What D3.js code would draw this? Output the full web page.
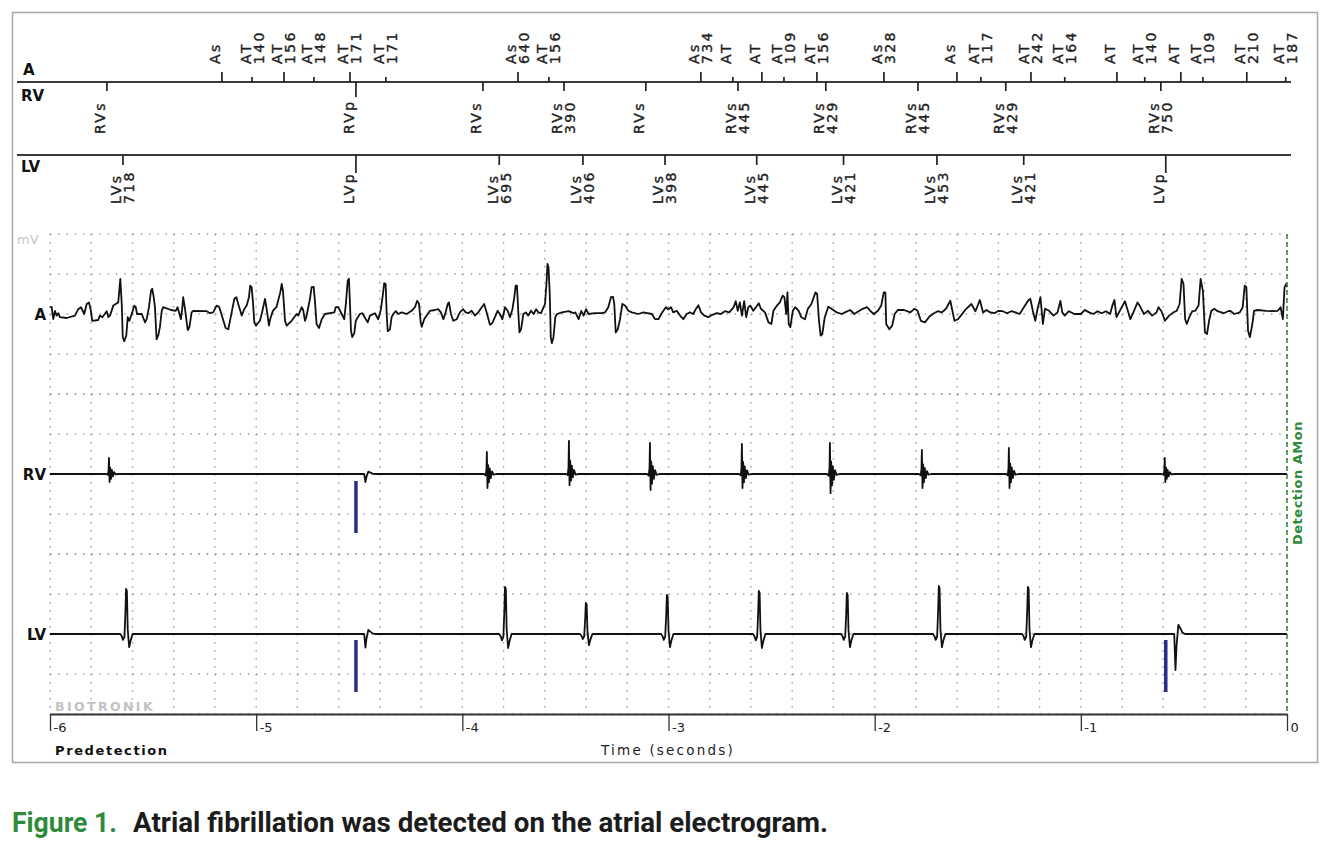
<!DOCTYPE html>
<html><head><meta charset="utf-8">
<script src="https://cdn.jsdelivr.net/npm/d3@7"></script>
<style>
html,body{margin:0;padding:0;background:#fff;}
svg{display:block;}
</style></head>
<body>
<svg id="chart" width="1332" height="848"></svg>
<script>
// ---------------- DATA ----------------
const timeTicks = [-6, -5, -4, -3, -2, -1, 0];
const timeTickLabels = ["-6", "-5", "-4", "-3", "-2", "-1", "0"];
const channels = ["A", "RV", "LV"];

// Atrial marker channel (time in s before detection)
const aMarkerTimes = [-5.166, -5.020, -4.865, -4.720, -4.545, -4.371, -3.730, -3.580, -2.843, -2.688, -2.547, -2.440, -2.280,
  -1.955, -1.601, -1.485, -1.242, -1.078, -0.825, -0.690, -0.515, -0.408, -0.195, -0.006];
const aMarkerLabels = ["As", "AT 140", "AT 156", "AT 148", "AT 171", "AT 171", "As 640", "AT 156", "As 734", "AT", "AT", "AT 109", "AT 156",
  "As 328", "As", "AT 117", "AT 242", "AT 164", "AT", "AT 140", "AT", "AT 109", "AT 210", "AT 187"];
const aMarkerMajor = [1, 0, 1, 0, 1, 0, 1, 0, 1, 0, 1, 0, 1, 1, 1, 0, 1, 0, 1, 0, 1, 0, 1, 0];

// RV marker channel
const rvMarkerTimes = [-5.724, -4.516, -3.900, -3.507, -3.110, -2.663, -2.237, -1.790, -1.364, -0.612];
const rvMarkerLabels = ["RVs", "RVp", "RVs", "RVs 390", "RVs", "RVs 445", "RVs 429", "RVs 445", "RVs 429", "RVs 750"];

// LV marker channel
const lvMarkerTimes = [-5.646, -4.516, -3.821, -3.415, -3.017, -2.572, -2.151, -1.698, -1.277, -0.588];
const lvMarkerLabels = ["LVs 718", "LVp", "LVs 695", "LVs 406", "LVs 398", "LVs 445", "LVs 421", "LVs 453", "LVs 421", "LVp"];

// Atrial electrogram (t s, mV)
const aTrace = [[-6.000,0.18],[-5.992,0.17],[-5.984,-0.13],[-5.976,0.08],[-5.968,-0.04],[-5.960,0.02],[-5.952,-0.08],[-5.919,-0.10],[-5.879,-0.04],[-5.863,0.12],[-5.850,0.17],[-5.834,0.00],[-5.822,0.25],[-5.811,0.29],[-5.803,0.12],[-5.795,-0.17],[-5.766,-0.15],[-5.758,-0.04],[-5.746,-0.08],[-5.725,0.07],[-5.717,-0.08],[-5.709,-0.04],[-5.693,0.21],[-5.669,0.29],[-5.659,0.88],[-5.652,0.25],[-5.647,-0.58],[-5.640,-0.68],[-5.630,-0.54],[-5.623,-0.08],[-5.615,-0.17],[-5.601,0.04],[-5.591,0.21],[-5.584,0.17],[-5.578,0.00],[-5.555,0.00],[-5.539,-0.21],[-5.531,-0.13],[-5.520,0.17],[-5.510,0.58],[-5.504,0.63],[-5.497,0.42],[-5.491,0.17],[-5.483,-0.63],[-5.475,-0.54],[-5.467,-0.33],[-5.458,0.08],[-5.451,0.17],[-5.413,0.10],[-5.390,0.08],[-5.381,0.17],[-5.374,0.04],[-5.365,-0.13],[-5.358,0.17],[-5.354,0.42],[-5.345,0.12],[-5.332,-0.40],[-5.324,-0.33],[-5.313,0.04],[-5.305,0.08],[-5.240,0.07],[-5.224,0.02],[-5.208,0.04],[-5.192,0.21],[-5.180,0.18],[-5.171,0.04],[-5.148,-0.35],[-5.135,-0.38],[-5.127,-0.17],[-5.106,0.38],[-5.096,0.42],[-5.087,0.25],[-5.070,-0.04],[-5.058,0.12],[-5.046,0.21],[-5.035,0.42],[-5.029,0.71],[-5.022,0.67],[-5.016,0.33],[-5.009,-0.21],[-5.001,-0.29],[-4.982,-0.17],[-4.973,0.00],[-4.957,0.38],[-4.949,0.12],[-4.938,-0.29],[-4.932,-0.13],[-4.919,0.08],[-4.901,0.18],[-4.883,0.54],[-4.876,0.75],[-4.870,0.58],[-4.860,-0.17],[-4.852,-0.29],[-4.828,-0.17],[-4.804,0.00],[-4.796,-0.04],[-4.779,0.17],[-4.772,0.10],[-4.763,-0.17],[-4.757,-0.08],[-4.739,0.38],[-4.731,0.67],[-4.721,0.68],[-4.715,0.33],[-4.707,-0.25],[-4.695,-0.35],[-4.682,-0.13],[-4.666,0.00],[-4.621,0.04],[-4.614,0.17],[-4.602,0.17],[-4.585,0.00],[-4.573,-0.13],[-4.565,0.25],[-4.556,0.83],[-4.550,0.88],[-4.545,0.25],[-4.540,-0.42],[-4.534,-0.58],[-4.524,-0.48],[-4.517,-0.17],[-4.497,0.00],[-4.485,0.02],[-4.459,-0.21],[-4.448,-0.04],[-4.424,0.02],
[-4.408,-0.13],[-4.395,0.12],[-4.385,0.50],[-4.379,0.77],[-4.372,0.75],[-4.367,0.00],[-4.362,-0.43],[-4.351,-0.38],[-4.343,-0.08],[-4.335,0.00],[-4.323,0.07],[-4.311,0.00],[-4.294,0.04],[-4.270,0.00],[-4.246,0.08],[-4.230,0.17],[-4.219,0.33],[-4.210,0.25],[-4.202,-0.21],[-4.197,-0.32],[-4.185,-0.13],[-4.173,-0.04],[-4.157,0.08],[-4.133,0.10],[-4.117,0.12],[-4.104,0.04],[-4.092,-0.13],[-4.081,0.04],[-4.071,0.25],[-4.065,0.29],[-4.055,0.00],[-4.044,-0.17],[-4.027,-0.13],[-4.012,0.04],[-3.996,0.12],[-3.984,0.04],[-3.971,0.02],[-3.955,0.08],[-3.939,-0.04],[-3.923,0.04],[-3.906,0.17],[-3.894,0.25],[-3.882,0.04],[-3.866,-0.27],[-3.855,-0.23],[-3.842,-0.08],[-3.829,0.08],[-3.818,0.00],[-3.806,-0.13],[-3.793,0.17],[-3.780,0.08],[-3.769,-0.08],[-3.757,0.12],[-3.748,0.42],[-3.741,0.71],[-3.735,0.71],[-3.728,0.00],[-3.723,-0.46],[-3.715,-0.38],[-3.704,0.00],[-3.692,0.04],[-3.680,-0.04],[-3.667,0.08],[-3.654,0.00],[-3.642,0.12],[-3.631,0.04],[-3.618,0.02],[-3.610,0.12],[-3.599,0.25],[-3.592,0.75],[-3.587,1.25],[-3.582,1.17],[-3.576,0.50],[-3.571,-0.58],[-3.566,-0.73],[-3.558,-0.58],[-3.549,-0.08],[-3.541,0.00],[-3.517,0.04],[-3.485,0.07],[-3.460,0.02],[-3.452,0.04],[-3.436,-0.13],[-3.423,0.08],[-3.412,-0.04],[-3.400,0.12],[-3.387,0.00],[-3.357,0.02],[-3.324,0.02],[-3.308,0.04],[-3.292,0.17],[-3.279,0.42],[-3.269,0.43],[-3.263,0.25],[-3.256,-0.46],[-3.246,-0.38],[-3.235,-0.13],[-3.224,0.25],[-3.211,0.21],[-3.195,0.08],[-3.178,0.04],[-3.146,0.00],[-3.122,0.04],[-3.081,0.00],[-3.065,-0.13],[-3.049,-0.13],[-3.033,0.02],[-3.013,0.17],[-3.001,0.12],[-2.988,0.17],[-2.977,0.04],[-2.960,0.08],[-2.944,-0.04],[-2.928,-0.13],[-2.912,0.00],[-2.896,0.04],[-2.880,0.00],[-2.868,0.12],[-2.855,0.22],[-2.842,0.04],[-2.826,-0.04],
[-2.807,-0.08],[-2.787,-0.02],[-2.766,0.02],[-2.746,0.00],[-2.726,0.07],[-2.705,0.04],[-2.684,0.17],[-2.674,0.32],[-2.664,0.08],[-2.654,0.29],[-2.644,-0.04],[-2.633,0.32],[-2.623,-0.08],[-2.613,0.17],[-2.603,0.21],[-2.589,0.08],[-2.576,0.17],[-2.562,0.27],[-2.552,0.13],[-2.532,0.04],[-2.515,-0.21],[-2.501,-0.25],[-2.491,0.08],[-2.474,0.21],[-2.460,0.29],[-2.446,0.46],[-2.438,0.42],[-2.429,0.00],[-2.423,0.54],[-2.417,-0.25],[-2.409,-0.33],[-2.397,0.08],[-2.385,0.17],[-2.368,0.07],[-2.356,-0.08],[-2.338,-0.13],[-2.324,0.13],[-2.307,0.25],[-2.287,0.54],[-2.279,0.50],[-2.270,-0.17],[-2.262,-0.54],[-2.254,-0.50],[-2.242,-0.08],[-2.225,0.18],[-2.209,0.13],[-2.184,0.04],[-2.160,0.00],[-2.144,0.04],[-2.119,0.10],[-2.099,0.00],[-2.078,0.07],[-2.058,0.13],[-2.037,0.17],[-2.021,0.08],[-2.005,0.00],[-1.984,0.08],[-1.968,0.21],[-1.956,0.54],[-1.948,0.54],[-1.944,-0.25],[-1.929,-0.38],[-1.915,-0.29],[-1.903,0.00],[-1.888,0.10],[-1.858,0.10],[-1.827,0.04],[-1.807,0.13],[-1.792,0.08],[-1.776,-0.17],[-1.756,-0.21],[-1.735,-0.07],[-1.719,0.00],[-1.694,0.07],[-1.674,0.04],[-1.654,0.13],[-1.633,0.33],[-1.623,0.08],[-1.613,-0.17],[-1.596,-0.13],[-1.582,-0.04],[-1.556,0.13],[-1.531,0.25],[-1.511,0.07],[-1.490,0.35],[-1.474,0.04],[-1.458,0.10],[-1.439,0.04],[-1.419,0.02],[-1.399,0.08],[-1.378,0.07],[-1.358,0.02],[-1.338,0.07],[-1.317,0.04],[-1.297,0.00],[-1.276,0.17],[-1.256,0.33],[-1.245,0.38],[-1.233,0.08],[-1.221,-0.17],[-1.209,0.15],[-1.196,0.42],[-1.184,-0.25],[-1.174,0.13],[-1.154,0.08],[-1.133,-0.04],[-1.113,0.04],[-1.099,0.33],[-1.090,0.04],[-1.078,-0.04],[-1.058,0.07],[-1.031,0.00],[-1.001,0.00],[-0.980,0.10],[-0.960,0.04],[-0.939,0.00],[-0.919,0.07],[-0.899,0.02],[-0.878,0.07],[-0.858,0.00],[-0.847,0.21],[-0.837,0.35],[-0.827,-0.08],[-0.806,0.13],[-0.786,0.32],[-0.772,0.08],[-0.760,-0.13],[-0.745,0.04],[-0.725,0.29],[-0.715,0.21],[-0.694,0.00],[-0.674,0.08],[-0.654,-0.04],[-0.633,0.04],[-0.623,0.17],[-0.609,0.07],[-0.592,-0.17],[-0.572,-0.04],[-0.551,0.04],[-0.535,0.08],[-0.521,0.25],[-0.511,0.88],[-0.502,0.75],[-0.494,-0.13],[-0.486,-0.25],[-0.474,-0.08],[-0.459,0.07],[-0.445,0.08],[-0.429,0.21],[-0.419,0.88],[-0.408,0.58],[-0.398,-0.46],[-0.388,-0.50],[-0.378,-0.17],[-0.367,0.08],[-0.352,0.13],[-0.337,0.07],[-0.307,0.02],[-0.286,0.07],[-0.276,0.08],[-0.256,0.00],[-0.229,0.04],[-0.215,0.17],[-0.205,0.71],[-0.197,0.67],[-0.189,-0.42],[-0.180,-0.58],[-0.168,-0.25],[-0.160,0.08],[-0.143,0.10],[-0.102,0.08],[-0.061,0.07],[-0.045,0.08],[-0.031,0.17],[-0.020,-0.13],[-0.012,0.67],[-0.004,0.75],[0.000,0.67]];

// Ventricular sensed complexes: time of spike (s), upward and downward amplitude (mV)
const rvBeatTimes = [-5.714, -3.881, -3.483, -3.090, -2.644, -2.217, -1.771, -1.349, -0.593];
const rvBeatUp    = [0.40, 0.55, 0.83, 0.78, 0.75, 0.78, 0.60, 0.65, 0.40];
const rvBeatDown  = [0.20, 0.35, 0.28, 0.40, 0.35, 0.48, 0.35, 0.35, 0.20];
const lvBeatTimes = [-5.631, -3.793, -3.401, -3.008, -2.562, -2.135, -1.689, -1.257];
const lvBeatUp    = [1.13, 1.18, 0.78, 0.98, 1.08, 1.03, 1.20, 1.18];
const lvBeatDown  = [0.33, 0.35, 0.28, 0.33, 0.35, 0.33, 0.33, 0.33];
// Paced (evoked) complexes
const rvPacedTimes = [-4.470];
const rvPacedUp    = [0.06];
const rvPacedDown  = [0.20];
const lvPacedTimes = [-4.470, -0.541];
const lvPacedUp    = [0.10, 0.23];
const lvPacedDown  = [0.34, 0.90];
// Pacing pulses
const rvPaceTimes = [-4.516];
const lvPaceTimes = [-4.516, -0.588];

// Complex shapes (ms from spike, normalised deflection)
const rvShapeMs  = [-14, -6, -2, 0, 3, 6, 10, 14, 19, 25, 32, 46];
const rvShapeVal = [0, -0.1, 0.2, 1.0, -1.0, 0.4, -0.6, 0.25, -0.3, 0.12, -0.05, 0];
const lvShapeMs  = [-28, -20, -15, -8, -3, 0, 4, 8, 15, 22, 32];
const lvShapeVal = [0, -0.2, -0.45, -0.2, 0.5, 1.0, 0.95, 0.1, -1.0, -0.5, 0];
const pacedShapeMs  = [-6, 0, 5, 14, 24, 34, 46];
const pacedShapeVal = [0, -1.0, -0.35, 1.0, 0.6, 0.15, 0];

// ---------------- CHART ----------------
const svg = d3.select("#chart");
const FONT = "'DejaVu Sans', Verdana, sans-serif";
const x = d3.scaleLinear().domain([-6, 0]).range([50, 1287]);
const chanBase = {A: 314, RV: 474, LV: 634};
const yS = {};
channels.forEach(c => { yS[c] = d3.scaleLinear().domain([-2, 2]).range([chanBase[c] + 80, chanBase[c] - 80]); });
const plotTop = yS.A(2), plotBottom = yS.LV(-2);

// frame
svg.append("rect").attr("x", 12.5).attr("y", 12.5).attr("width", 1305).attr("height", 750)
  .attr("fill", "none").attr("stroke", "#a8a8a8").attr("stroke-width", 1.5);

// grid
const grid = svg.append("g");
x.ticks(30).forEach(t => {
  grid.append("line").attr("x1", x(t)).attr("x2", x(t)).attr("y1", plotTop).attr("y2", plotBottom)
    .attr("stroke", "#9a9a9a").attr("stroke-width", 1.4).attr("stroke-dasharray", "1.4,6.6");
});
channels.forEach(c => {
  [2, 1, 0, -1, -2].forEach(v => {
    grid.append("line").attr("x1", x(-6)).attr("x2", x(0)).attr("y1", yS[c](v)).attr("y2", yS[c](v))
      .attr("stroke", "#9a9a9a").attr("stroke-width", 1.4).attr("stroke-dasharray", "1.4,6.85");
  });
});

svg.append("text").attr("x", 17).attr("y", plotTop + 10).text("mV")
  .attr("font-family", FONT).attr("font-size", 13).attr("fill", "#c4c4c4");

// marker channels
const mk = svg.append("g");
const lineAY = 82, lineLVY = 155;
[lineAY, lineLVY].forEach(yy => {
  mk.append("line").attr("x1", 17).attr("x2", 1291).attr("y1", yy).attr("y2", yy)
    .attr("stroke", "#3a3a3a").attr("stroke-width", 2);
});
aMarkerTimes.forEach((t, i) => {
  mk.append("line").attr("x1", x(t)).attr("x2", x(t)).attr("y1", lineAY).attr("y2", aMarkerMajor[i] ? lineAY - 10 : lineAY - 5)
    .attr("stroke", "#222").attr("stroke-width", 1.7);
});
rvMarkerTimes.forEach((t, i) => {
  const paced = rvMarkerLabels[i].indexOf("p") >= 0;
  mk.append("line").attr("x1", x(t)).attr("x2", x(t)).attr("y1", lineAY).attr("y2", paced ? lineAY + 15 : lineAY + 9)
    .attr("stroke", "#222").attr("stroke-width", 1.7);
});
lvMarkerTimes.forEach((t, i) => {
  const paced = lvMarkerLabels[i].indexOf("p") >= 0;
  mk.append("line").attr("x1", x(t)).attr("x2", x(t)).attr("y1", lineLVY).attr("y2", paced ? lineLVY + 18 : lineLVY + 10)
    .attr("stroke", "#222").attr("stroke-width", 1.7);
});
function drawMarkerLabels(times, labels, yStart) {
  times.forEach((t, i) => {
    labels[i].split(" ").forEach((p, j) => {
      const cx = x(t) + (j === 0 ? -6.5 : 6.5);
      mk.append("text").attr("transform", `translate(${cx},${yStart}) rotate(-90)`)
        .attr("dominant-baseline", "central").attr("text-anchor", "start")
        .attr("font-family", FONT).attr("font-size", 14).attr("letter-spacing", 2.4)
        .attr("fill", "#222").attr("stroke", "#222").attr("stroke-width", 0.35).text(p);
    });
  });
}
drawMarkerLabels(aMarkerTimes, aMarkerLabels, 64);
drawMarkerLabels(rvMarkerTimes, rvMarkerLabels, 134);
drawMarkerLabels(lvMarkerTimes, lvMarkerLabels, 204);

[["A", 23, 75], ["RV", 21, 101], ["LV", 21, 172]].forEach(d => {
  svg.append("text").attr("x", d[1]).attr("y", d[2]).text(d[0])
    .attr("font-family", FONT).attr("font-weight", "bold").attr("font-size", 15).attr("fill", "#111");
});

// traces
const line = c => d3.line().x(d => x(d[0])).y(d => yS[c](d[1]));
function buildTrace(bt, bu, bd, sMs, sVal, pt, pu, pd) {
  const pts = [[-6, 0]];
  const add = (t0, up, dn, ms, vals) => ms.forEach((m, k) => {
    const s = vals[k];
    pts.push([t0 + m / 1000, s >= 0 ? s * up : s * dn]);
  });
  bt.forEach((t, i) => add(t, bu[i], bd[i], sMs, sVal));
  pt.forEach((t, i) => add(t, pu[i], pd[i], pacedShapeMs, pacedShapeVal));
  pts.push([0, 0]);
  pts.sort((a, b) => a[0] - b[0]);
  return pts;
}
const rvTrace = buildTrace(rvBeatTimes, rvBeatUp, rvBeatDown, rvShapeMs, rvShapeVal, rvPacedTimes, rvPacedUp, rvPacedDown);
const lvTrace = buildTrace(lvBeatTimes, lvBeatUp, lvBeatDown, lvShapeMs, lvShapeVal, lvPacedTimes, lvPacedUp, lvPacedDown);

const tr = svg.append("g").attr("fill", "none").attr("stroke", "#111").attr("stroke-linejoin", "round");
tr.append("path").attr("d", line("A")(aTrace)).attr("stroke-width", 1.8);
tr.append("path").attr("d", line("RV")(rvTrace)).attr("stroke-width", 1.8);
tr.append("path").attr("d", line("LV")(lvTrace)).attr("stroke-width", 1.8);

// pacing pulses
const pace = svg.append("g");
rvPaceTimes.forEach(t => pace.append("line").attr("x1", x(t)).attr("x2", x(t))
  .attr("y1", yS.RV(0) + 7).attr("y2", yS.RV(0) + 59).attr("stroke", "#2b2e85").attr("stroke-width", 3.5));
lvPaceTimes.forEach(t => pace.append("line").attr("x1", x(t)).attr("x2", x(t))
  .attr("y1", yS.LV(0) + 6).attr("y2", yS.LV(0) + 58).attr("stroke", "#2b2e85").attr("stroke-width", 3.5));

// channel labels
channels.forEach(c => {
  svg.append("text").attr("x", 46).attr("y", chanBase[c] + 6).attr("text-anchor", "end").text(c)
    .attr("font-family", FONT).attr("font-weight", "bold").attr("font-size", 15).attr("fill", "#111");
});

// BIOTRONIK
svg.append("text").attr("x", 55).attr("y", 711).text("BIOTRONIK")
  .attr("font-family", FONT).attr("font-weight", "bold").attr("font-size", 12.5).attr("letter-spacing", 2.4).attr("fill", "#c2c2c2");

// detection line
svg.append("line").attr("x1", x(0)).attr("x2", x(0)).attr("y1", plotTop).attr("y2", plotBottom)
  .attr("stroke", "#2e8b3a").attr("stroke-width", 1.5).attr("stroke-dasharray", "5,3");
svg.append("text").attr("transform", `translate(1297,545) rotate(-90)`).attr("dominant-baseline", "central")
  .text("Detection AMon").attr("font-family", FONT).attr("font-weight", "bold").attr("font-size", 13)
  .attr("letter-spacing", 0.5).attr("fill", "#2e8b3a");

// time axis
const axG = svg.append("g").attr("transform", `translate(0,${plotBottom})`)
  .call(d3.axisBottom(x).tickValues(timeTicks).tickFormat((d, i) => timeTickLabels[i]).tickSize(17).tickSizeOuter(0));
axG.select(".domain").attr("stroke", "#333").attr("stroke-width", 2);
axG.selectAll(".tick line").attr("stroke", "#333").attr("stroke-width", 1.3);
axG.selectAll(".tick text").attr("x", 3).attr("y", 18).attr("dy", 0).attr("text-anchor", "start")
  .attr("font-family", FONT).attr("font-size", 13).attr("fill", "#222");

svg.append("text").attr("x", 55).attr("y", 755).text("Predetection")
  .attr("font-family", FONT).attr("font-weight", "bold").attr("font-size", 13).attr("letter-spacing", 1.6).attr("fill", "#111");
svg.append("text").attr("x", 668).attr("y", 755).attr("text-anchor", "middle").text("Time (seconds)")
  .attr("font-family", FONT).attr("font-size", 13.5).attr("letter-spacing", 2.2).attr("fill", "#222");

// caption
svg.append("text").attr("x", 12).attr("y", 832).text("Figure 1.")
  .attr("font-family", "Roboto, 'Liberation Sans', sans-serif").attr("font-weight", "bold").attr("font-size", 27)
  .attr("textLength", 105).attr("lengthAdjust", "spacingAndGlyphs").attr("fill", "#2f8a3c");
svg.append("text").attr("x", 133).attr("y", 832).text("Atrial fibrillation was detected on the atrial electrogram.")
  .attr("font-family", "Roboto, 'Liberation Sans', sans-serif").attr("font-weight", "bold").attr("font-size", 27)
  .attr("textLength", 695).attr("lengthAdjust", "spacingAndGlyphs").attr("fill", "#1c1c1c");
</script>
</body></html>
